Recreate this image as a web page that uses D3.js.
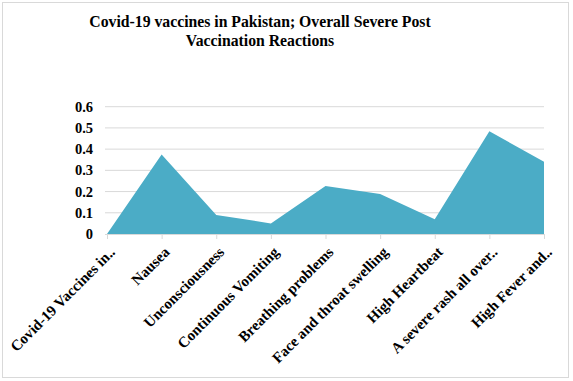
<!DOCTYPE html>
<html>
<head>
<meta charset="utf-8">
<script src="https://cdn.jsdelivr.net/npm/d3@7/dist/d3.min.js"></script>
<style>
  body { margin: 0; background: #fff; }
  text { font-family: "Liberation Serif", "Times New Roman", serif; font-weight: bold; fill: #000; }
</style>
</head>
<body>
<div id="chart"></div>
<script>
var categories = ["Covid-19 Vaccines in..", "Nausea", "Unconsciousness", "Continuous Vomiting",
    "Breathing problems", "Face and throat swelling", "High Heartbeat",
    "A severe rash all over..", "High Fever and.."];
var values = [0, 0.375, 0.09, 0.05, 0.226, 0.189, 0.07, 0.484, 0.34];
var yTicks = [0, 0.1, 0.2, 0.3, 0.4, 0.5, 0.6];
var titleLines = ["Covid-19 vaccines in Pakistan; Overall Severe Post", "Vaccination Reactions"];

var W = 573, H = 381;
var svg = d3.select("#chart").append("svg")
    .attr("width", W)
    .attr("height", H);

// outer frame
svg.append("rect")
    .attr("x", 2.5).attr("y", 2.5)
    .attr("width", 566).attr("height", 375)
    .attr("fill", "#fff")
    .attr("stroke", "#d9d9d9");

var x = d3.scalePoint()
    .domain(categories)
    .range([107, 544]);

var y = d3.scaleLinear()
    .domain([0, 0.6])
    .range([234, 106.7]);

// gridlines
svg.append("g")
    .selectAll("line")
    .data(yTicks.slice(1))
    .enter()
    .append("line")
    .attr("x1", 105).attr("x2", 544)
    .attr("y1", function (d) { return y(d); })
    .attr("y2", function (d) { return y(d); })
    .attr("stroke", "#d9d9d9");

// area
var area = d3.area()
    .x(function (d, i) { return x(categories[i]); })
    .y0(y(0))
    .y1(function (d) { return y(d); });

svg.append("path")
    .datum(values)
    .attr("d", area)
    .attr("fill", "#4bacc6");

// x axis
var xAxis = d3.axisBottom(x).tickSize(5).tickFormat("");
var xg = svg.append("g")
    .attr("transform", "translate(0," + y(0) + ")")
    .call(xAxis);
xg.select(".domain").attr("stroke", "#d9d9d9").attr("d", "M105,0.5H544");
xg.selectAll(".tick line").attr("stroke", "#d9d9d9");

svg.append("g")
    .selectAll("text")
    .data(categories)
    .enter()
    .append("text")
    .attr("transform", function (d) { return "translate(" + (x(d) + 9) + ",253) rotate(-45)"; })
    .attr("text-anchor", "end")
    .attr("font-size", "15px")
    .text(function (d) { return d; });

// y axis labels
svg.append("g")
    .selectAll("text")
    .data(yTicks)
    .enter()
    .append("text")
    .attr("x", 93)
    .attr("y", function (d) { return y(d); })
    .attr("dy", "0.35em")
    .attr("text-anchor", "end")
    .attr("font-size", "14.5px")
    .text(function (d) { return d; });

// title
svg.append("g")
    .attr("transform", "translate(260,0) scale(0.9,1)")
    .selectAll("text")
    .data(titleLines)
    .enter()
    .append("text")
    .attr("x", 0)
    .attr("y", function (d, i) { return 27 + i * 19; })
    .attr("text-anchor", "middle")
    .attr("font-size", "17.5px")
    .text(function (d) { return d; });
</script>
</body>
</html>
